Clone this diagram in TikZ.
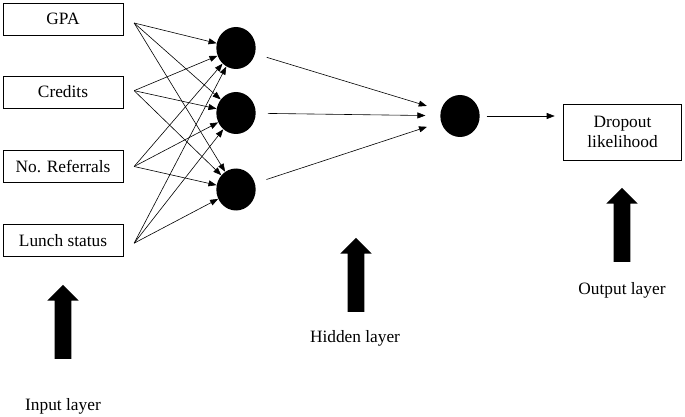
\documentclass[tikz,border=0pt]{standalone}
\usepackage{fontspec}
\setmainfont{Liberation Serif}
\usetikzlibrary{positioning,calc,shapes.geometric,shapes.arrows,arrows.meta}

\tikzset{
  inbox/.style={draw, line width=0.7pt, minimum width=90pt, minimum height=24pt, inner sep=2pt},
  neuron/.style={ellipse, fill=black, minimum width=29.5pt, minimum height=31.5pt, inner sep=0pt},
  bigarrow/.style={single arrow, fill=black, rotate=90, inner xsep=0pt, inner ysep=6pt,
    minimum height=55.5pt, single arrow head extend=5.6pt},
  link/.style={line width=0.45pt, -{Triangle[length=6pt,width=4.5pt]}}
}

\begin{document}
\begin{tikzpicture}[x=0.75pt, y=-0.75pt, every node/.style={font=\fontsize{13}{15}\selectfont}]
  \useasboundingbox (0,0) rectangle (685,417);

  % input layer
  \node (gpa) [inbox] at (63,19) {GPA};
  \node (cred) [inbox] at (63,92) {Credits};
  \node (refer) [inbox] at (63,166.5) {No. Referrals};
  \node (lunch) [inbox] at (63,240.5) {Lunch status};
  \coordinate (gpa-o) at ([xshift=8pt,yshift=-3pt]gpa.east);
  \coordinate (cred-o) at ([xshift=8pt,yshift=1pt]cred.east);
  \coordinate (refer-o) at ([xshift=8pt]refer.east);
  \coordinate (lunch-o) at ([xshift=8pt,yshift=-2pt]lunch.east);

  % hidden layer
  \node (h1) [neuron] at (236,48) {};
  \node (h2) [neuron] at (236,113) {};
  \node (h3) [neuron] at (236,189.5) {};

  % output
  \node (out) [neuron] at (460,116) {};
  \node (result) [inbox, minimum width=89pt, minimum height=42pt, align=center] at (622.5,132) {Dropout\\likelihood};

  \foreach \i in {gpa,cred,refer,lunch}
    \foreach \h in {h1,h2,h3}
      \draw[link] (\i-o) -- (\h);

  \foreach \h in {h1,h2,h3}
    \draw[link, shorten <=9pt, shorten >=11pt] (\h) -- (out);
  \draw[link, shorten <=5pt, shorten >=6pt] (out) -- (out -| result.west);

  % layer markers
  \node (ain) [bigarrow] at (63,326) {};
  \node (ahid) [bigarrow] at (356,279) {};
  \node (aout) [bigarrow] at (622,229) {};
  \node (lin) at (63,406) {Input layer};
  \node (lhid) at (355,338) {Hidden layer};
  \node (lout) at (622,290) {Output layer};
\end{tikzpicture}
\end{document}
